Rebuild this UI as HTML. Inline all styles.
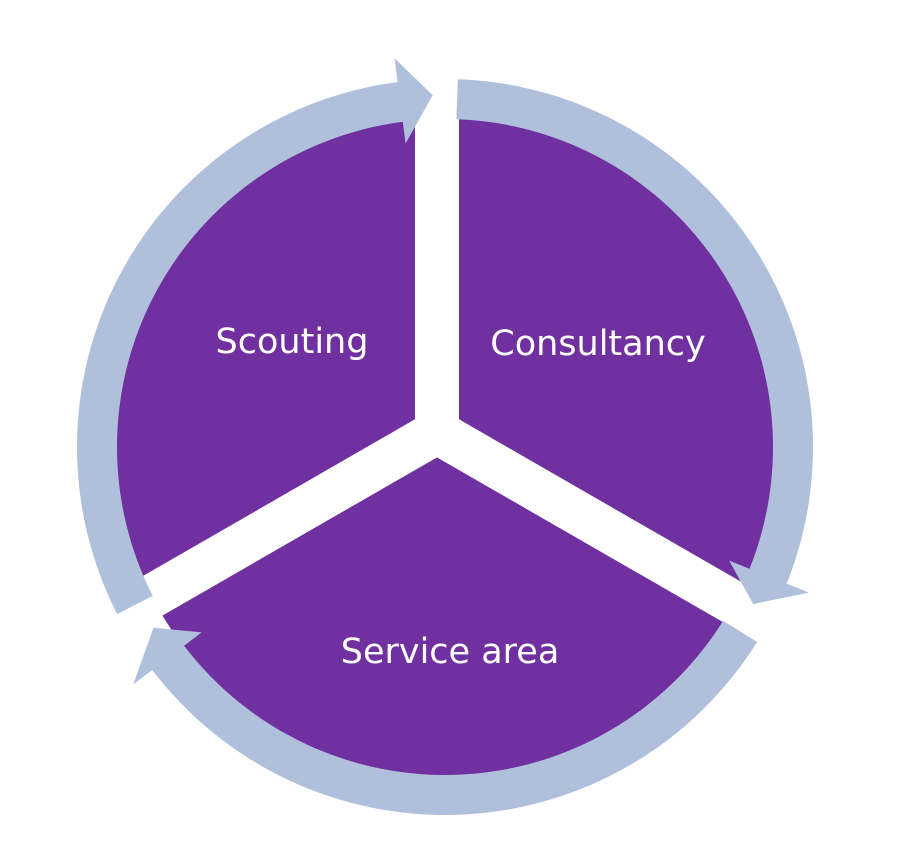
<!DOCTYPE html>
<html><head><meta charset="utf-8"><style>
html,body{margin:0;padding:0;background:#fff;width:902px;height:868px;overflow:hidden}
svg{display:block}
text{font-family:"DejaVu Sans","Liberation Sans",sans-serif;fill:#fff;font-size:35px;text-anchor:middle}
</style></head><body>
<svg id="s" width="902" height="868" viewBox="0 0 902 868">
<circle cx="445" cy="447" r="329" fill="#7030A0"/>
<g stroke="#fff" stroke-width="44" stroke-linecap="butt">
<line x1="437" y1="440" x2="437" y2="60"/>
<line x1="437" y1="432" x2="62" y2="648"/>
<line x1="437" y1="432" x2="812" y2="648"/>
</g>
<g id="ring" fill="#B0C0DC"></g>
<text x="292" y="353">Scouting</text>
<text x="598" y="355">Consultancy</text>
<text x="450" y="663">Service area</text>
</svg>
<script>
var cx=445,cy=447,ri=328,ro=368,rm=348;
function P(r,a){a=a*Math.PI/180;return [cx+r*Math.cos(a),cy+r*Math.sin(a)];}
function seg(a0,a1,ab,at,rt){
 var p1=P(ro,a0),p2=P(ro,ab),p3=P(392,ab),t=P(rt,at),p4=P(306,ab),p5=P(ri,ab),p6=P(ri,a0);
 var la=(ab-a0)>180?1:0;
 return "M"+p1+" A"+ro+","+ro+" 0 "+la+" 1 "+p2+" L"+p3+" L"+t+" L"+p4+" L"+p5+" A"+ri+","+ri+" 0 "+la+" 0 "+p6+" Z";
}
var g=document.getElementById('ring'),d=[seg(153,262.6,262.6,268,352),seg(-88,21.8,21.8,27,346),seg(32,142.7,142.7,148.2,343)];
d.forEach(function(x){var p=document.createElementNS("http://www.w3.org/2000/svg","path");p.setAttribute("d",x.replace(/,/g," "));g.appendChild(p);});
</script>
</body></html>
